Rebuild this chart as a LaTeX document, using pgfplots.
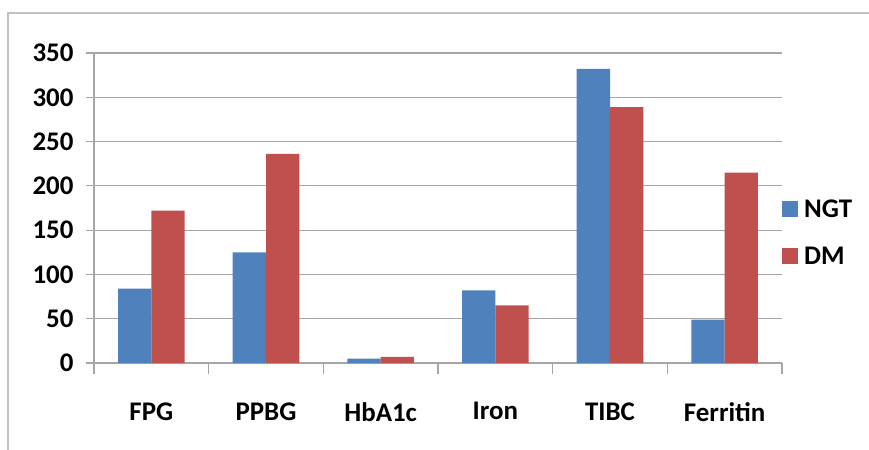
\documentclass[border=0pt]{standalone}
\usepackage{pgfplots}
\pgfplotsset{compat=1.18}
\usepackage{fontspec}
\setmainfont{Carlito}
\definecolor{ngt}{HTML}{4F81BD}
\definecolor{dm}{HTML}{C0504D}
\definecolor{gridc}{HTML}{A6A6A6}
\begin{document}
\begin{tikzpicture}
\useasboundingbox (0bp,0bp) rectangle (869bp,-450bp);
\draw[gridc!70, line width=2bp] (8bp,-450bp) -- (8bp,-13bp) -- (869bp,-13bp);
\begin{axis}[
    at={(94bp,-363bp)}, anchor=south west,
    scale only axis,
    width=688bp, height=310bp,
    xmin=-0.5, xmax=5.5,
    ymin=0, ymax=350,
    ytick={0,50,...,350},
    xtick={0,...,5},
    xticklabels={FPG,PPBG,HbA1c,Iron,TIBC,Ferritin},
    minor xtick={-0.5,0.5,...,5.5},
    axis x line*=bottom,
    axis y line*=left,
    axis line style={gridc, line width=1.2bp},
    ymajorgrids=true,
    grid style={gridc, line width=1.2bp},
    tick align=outside,
    major tick length=8bp,
    minor tick length=11bp,
    major x tick style={draw=none},
    minor x tick style={gridc, line width=1.2bp},
    y tick style={gridc, line width=1.2bp},
    ticklabel style={font=\fontsize{27}{31}\selectfont\bfseries},
    /pgf/number format/assume math mode=true,
    yticklabel style={xshift=-9bp},
    xticklabel style={yshift=-28bp},
    ybar=0pt,
    bar width=0.29,
    legend style={at={(1,0.42)}, anchor=west, draw=none, fill=none,
        font=\fontsize{27}{31}\selectfont\bfseries,
        row sep=24bp, column sep=4bp, inner sep=0pt},
    legend cell align=left,
    legend image code/.code={\fill[#1, draw=none] (0bp,-8bp) rectangle (16bp,8bp);},
]
\addplot[fill=ngt, draw=none] coordinates {(0,84) (1,125) (2,5) (3,82) (4,332) (5,49)};
\addplot[fill=dm, draw=none] coordinates {(0,172) (1,236) (2,7) (3,65) (4,289) (5,215)};
\legend{NGT,DM}
\end{axis}
\end{tikzpicture}
\end{document}
